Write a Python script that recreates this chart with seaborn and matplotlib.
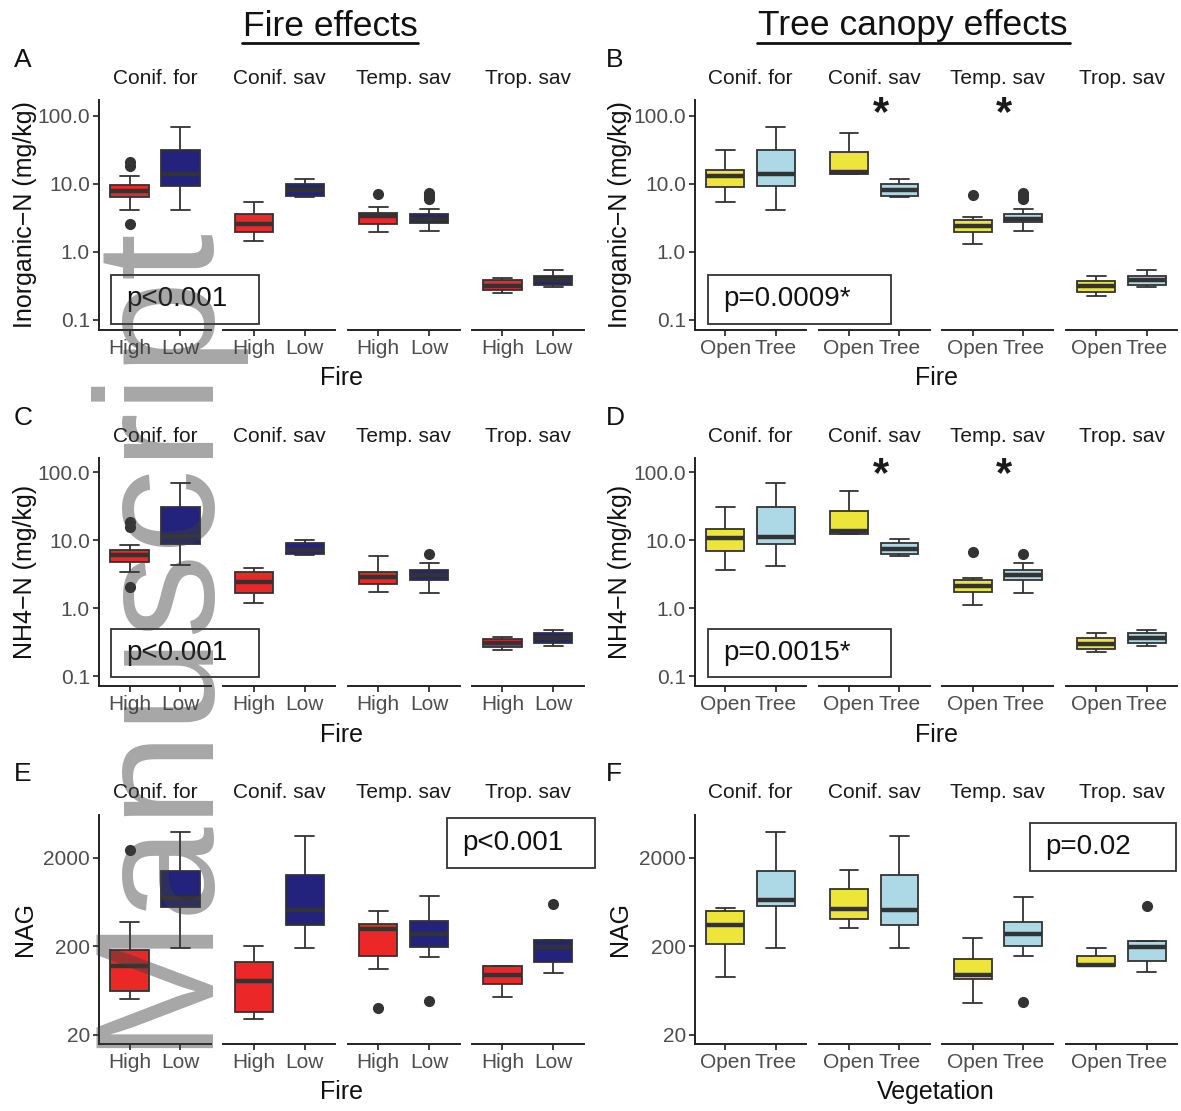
import matplotlib
matplotlib.use("Agg")
import matplotlib.pyplot as plt
from matplotlib.lines import Line2D
from matplotlib.patches import Rectangle
from matplotlib.ticker import NullLocator
import pandas as pd
import seaborn as sns

sns.set_theme(style="ticks")
plt.rcParams["font.family"] = ["Liberation Sans", "DejaVu Sans"]

SITES = ["Conif. for", "Conif. sav", "Temp. sav", "Trop. sav"]
FIRE = ["High", "Low"]
COVER = ["Open", "Tree"]

FIRE_COLORS = {"High": "#EC2727", "Low": "#23237D"}
COVER_COLORS = {"Open": "#EDE53A", "Tree": "#ADD8E6"}

# box summaries: [lower whisker, q1, median, q3, upper whisker]
# order: site by site, two levels per site
inorg_fire = [
    [4.1, 6.4, 7.9, 9.55, 13.0], [4.1, 9.3, 13.9, 31.0, 69.0],
    [1.45, 1.97, 2.6, 3.58, 5.4], [6.4, 6.7, 8.1, 9.9, 11.6],
    [1.97, 2.55, 3.35, 3.75, 4.6], [2.04, 2.7, 3.09, 3.66, 4.3],
    [0.25, 0.279, 0.32, 0.392, 0.415], [0.305, 0.33, 0.383, 0.449, 0.537],
]
inorg_fire_out = [[2.55, 18.5, 21.0], [], [], [], [7.0], [6.0, 6.6, 7.3], [], []]

inorg_cover = [
    [5.4, 9.0, 13.0, 15.8, 31.0], [4.1, 9.3, 13.9, 31.0, 69.0],
    [13.9, 13.9, 15.0, 28.9, 55.0], [6.4, 6.7, 8.2, 9.9, 11.6],
    [1.3, 1.97, 2.38, 2.92, 3.2], [2.04, 2.76, 3.09, 3.66, 4.3],
    [0.223, 0.258, 0.313, 0.375, 0.449], [0.305, 0.33, 0.383, 0.449, 0.537],
]
inorg_cover_out = [[], [], [], [], [6.8], [6.0, 6.6, 7.3], [], []]

nh4_fire = [
    [3.44, 4.8, 6.05, 7.2, 8.5], [4.3, 8.8, 11.3, 30.6, 70.0],
    [1.18, 1.69, 2.45, 3.37, 3.86], [6.05, 6.2, 7.2, 9.0, 10.0],
    [1.71, 2.24, 2.9, 3.44, 5.86], [1.69, 2.6, 3.07, 3.6, 4.57],
    [0.242, 0.27, 0.303, 0.347, 0.38], [0.277, 0.303, 0.36, 0.425, 0.476],
]
nh4_fire_out = [[2.07, 15.8, 18.7], [], [], [], [], [6.27], [], []]

nh4_cover = [
    [3.65, 7.0, 10.7, 14.6, 31.0], [4.17, 8.8, 11.0, 30.6, 70.0],
    [12.4, 12.4, 13.4, 26.3, 52.0], [5.86, 6.2, 7.4, 9.0, 10.3],
    [1.11, 1.71, 2.14, 2.6, 2.75], [1.65, 2.6, 3.07, 3.6, 4.57],
    [0.229, 0.247, 0.293, 0.36, 0.425], [0.277, 0.303, 0.368, 0.425, 0.476],
]
nh4_cover_out = [[], [], [], [], [6.56], [6.2], [], []]

nag_fire = [
    [50.7, 62, 121, 183, 377], [191, 557, 705, 1413, 3900],
    [30, 36.7, 82, 132, 205], [191, 346, 512, 1273, 3515],
    [112, 158, 314, 361, 498], [154, 196, 276, 384, 736],
    [54, 75, 96, 119, 119], [100, 133, 196, 234, 234],
]
nag_fire_out = [[2480], [], [], [], [40], [48.5], [], [600]]

nag_cover = [
    [91.5, 214, 352, 498, 543], [191, 567, 675, 1413, 3900],
    [323, 408, 530, 892, 1476], [191, 346, 512, 1273, 3515],
    [46.5, 85, 96, 146, 248], [157, 200, 278, 377, 717],
    [119, 119, 124, 158, 191], [102, 138, 196, 232, 232],
]
nag_cover_out = [[], [], [], [], [], [47.6], [], [580]]

LOG_TICKS = [0.1, 1, 10, 100]
LOG_LABELS = ["0.1", "1.0", "10.0", "100.0"]
NAG_TICKS = [20, 200, 2000]
NAG_LABELS = ["20", "200", "2000"]

W, H = 1181, 1111
fig = plt.figure(figsize=(W / 100, H / 100), dpi=100)


def fx(x):
    return x / W


def fy(y):
    return 1 - y / H


def box_points(stats, outliers):
    # points whose quartiles/whiskers reproduce the summary exactly
    lo, q1, med, q3, hi = stats
    low = [v for v in outliers if v < lo]
    high = [v for v in outliers if v > hi]
    k = max(len(low), len(high)) + 1
    return (low + [lo] * (k - len(low)) + [q1] * k + [med]
            + [q3] * k + [hi] * (k - len(high)) + high)


def panel_frame(boxes, outliers, levels):
    rows = []
    i = 0
    for site in SITES:
        for lev in levels:
            for v in box_points(boxes[i], outliers[i]):
                rows.append({"site": site, "level": lev, "value": v})
            i += 1
    return pd.DataFrame(rows)


# row geometry (pixels): axes top, bottom, strip y, axis title y
ROWS = [
    dict(top=100, bottom=330, strip=79, xlab=378, ylim=(0.0713, 170),
         ticks=LOG_TICKS, labels=LOG_LABELS),
    dict(top=458, bottom=686, strip=437, xlab=735, ylim=(0.0713, 161),
         ticks=LOG_TICKS, labels=LOG_LABELS),
    dict(top=815, bottom=1044, strip=793, xlab=1092, ylim=(15.8, 6120),
         ticks=NAG_TICKS, labels=NAG_LABELS),
]
# column geometry: first facet left, facet width, step, ylabel x, letter x
COLS = [
    dict(left=99, width=112, step=124.3, ylab=25, letter=14),
    dict(left=695, width=111, step=123.7, ylab=620, letter=606),
]

panels = [
    dict(row=0, col=0, letter="A", boxes=inorg_fire, out=inorg_fire_out, levels=FIRE,
         pal=FIRE_COLORS, ylabel="Inorganic\u2212N (mg/kg)", xlabel="Fire",
         ptext="p<0.001", pbox=(111, 275, 259, 324), stars=[]),
    dict(row=0, col=1, letter="B", boxes=inorg_cover, out=inorg_cover_out, levels=COVER,
         pal=COVER_COLORS, ylabel="Inorganic\u2212N (mg/kg)", xlabel="Fire",
         ptext="p=0.0009*", pbox=(708, 275, 891, 324), stars=[(1, 106), (2, 106)]),
    dict(row=1, col=0, letter="C", boxes=nh4_fire, out=nh4_fire_out, levels=FIRE,
         pal=FIRE_COLORS, ylabel="NH4\u2212N (mg/kg)", xlabel="Fire",
         ptext="p<0.001", pbox=(111, 629, 259, 677), stars=[]),
    dict(row=1, col=1, letter="D", boxes=nh4_cover, out=nh4_cover_out, levels=COVER,
         pal=COVER_COLORS, ylabel="NH4\u2212N (mg/kg)", xlabel="Fire",
         ptext="p=0.0015*", pbox=(708, 629, 891, 677), stars=[(1, 89), (2, 89)]),
    dict(row=2, col=0, letter="E", boxes=nag_fire, out=nag_fire_out, levels=FIRE,
         pal=FIRE_COLORS, ylabel="NAG", xlabel="Fire",
         ptext="p<0.001", pbox=(447, 818, 595, 868), stars=[]),
    dict(row=2, col=1, letter="F", boxes=nag_cover, out=nag_cover_out, levels=COVER,
         pal=COVER_COLORS, ylabel="NAG", xlabel="Vegetation",
         ptext="p=0.02", pbox=(1030, 823, 1176, 871), stars=[]),
]

for p in panels:
    r = ROWS[p["row"]]
    c = COLS[p["col"]]
    df = panel_frame(p["boxes"], p["out"], p["levels"])
    star_sites = dict(p["stars"])

    for j, site in enumerate(SITES):
        x0 = c["left"] + j * c["step"]
        ax = fig.add_axes([fx(x0), fy(r["bottom"]), c["width"] / W,
                           (r["bottom"] - r["top"]) / H])
        sub = df[df["site"] == site]
        sns.boxplot(data=sub, x="level", y="value", hue="level",
                    order=p["levels"], hue_order=p["levels"], palette=p["pal"],
                    saturation=1, width=0.75, linewidth=1.3, linecolor="#333333",
                    fliersize=7,
                    flierprops=dict(marker="o", markerfacecolor="#333333",
                                    markeredgecolor="#333333"),
                    medianprops=dict(linewidth=3.2, color="#333333"),
                    log_scale=True, legend=False, ax=ax)
        ax.set_xlim(-0.6, 1.6)
        ax.set_ylim(*r["ylim"])
        ax.set_yticks(r["ticks"])
        ax.set_yticklabels(r["labels"])
        ax.yaxis.set_minor_locator(NullLocator())
        ax.set_xlabel("")
        ax.set_ylabel("")
        ax.patch.set_alpha(0)
        for s in ["top", "right"]:
            ax.spines[s].set_visible(False)
        for s in ["left", "bottom"]:
            ax.spines[s].set_linewidth(1.4)
            ax.spines[s].set_color("#222222")
        ax.tick_params(axis="both", length=4.5, width=1.3, color="#333333",
                       labelsize=15, labelcolor="#4D4D4D", pad=2)
        if j > 0:
            ax.spines["left"].set_visible(False)
            ax.tick_params(axis="y", left=False, labelleft=False)

        if j in star_sites:
            ax.text(0.63, star_sites[j], "*", ha="center", va="center",
                    fontsize=30, fontweight="bold", color="#1a1a1a")

        fig.text(fx(x0 + c["width"] / 2), fy(r["strip"]), site, ha="center",
                 va="center", fontsize=15, color="#1a1a1a")

    span_l = c["left"]
    span_r = c["left"] + 3 * c["step"] + c["width"]
    fig.text(fx((span_l + span_r) / 2), fy(r["xlab"]), p["xlabel"], ha="center",
             va="center", fontsize=18, color="#111111")
    fig.text(fx(c["ylab"]), fy((r["top"] + r["bottom"]) / 2), p["ylabel"],
             rotation=90, ha="center", va="center", fontsize=18, color="#111111")
    fig.text(fx(c["letter"]), fy(r["strip"] - 19), p["letter"], ha="left",
             va="center", fontsize=19, color="#111111")

    bx0, by0, bx1, by1 = p["pbox"]
    fig.patches.append(Rectangle((fx(bx0), fy(by1)), (bx1 - bx0) / W,
                                 (by1 - by0) / H, transform=fig.transFigure,
                                 fill=False, edgecolor="#333333", linewidth=1.3))
    fig.text(fx(bx0 + 15), fy((by0 + by1) / 2), p["ptext"], ha="left",
             va="center", fontsize=20, color="#111111")

# column titles, underlined
for label, cx, x_a, x_b in [("Fire effects", 330, 242, 418),
                            ("Tree canopy effects", 913, 757, 1070)]:
    fig.text(fx(cx), fy(26), label, ha="center", va="center", fontsize=25.5,
             color="#111111")
    fig.add_artist(Line2D([fx(x_a), fx(x_b)], [fy(43), fy(43)],
                          transform=fig.transFigure, color="#111111", linewidth=2))

# watermark
fig.text(fx(200), fy(1048), "Manuscript", rotation=90, rotation_mode="anchor",
         ha="left", va="baseline", fontsize=122, color="#3c3c3c", alpha=0.45,
         zorder=10)

fig.savefig("out.png", dpi=100)
plt.close(fig)
